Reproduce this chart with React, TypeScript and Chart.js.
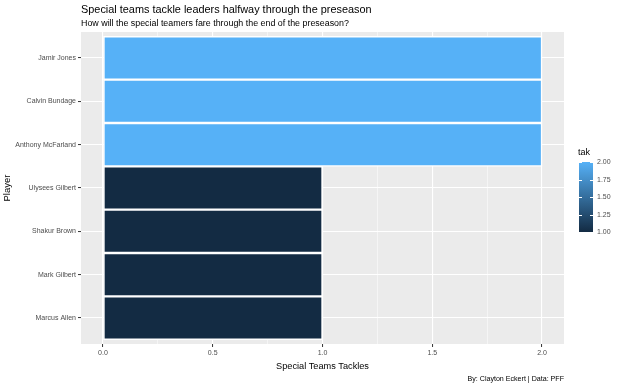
import React, { useEffect, useRef } from "react";
import { Chart, registerables } from "chart.js";

Chart.register(...registerables);

const players = [
  "Jamir Jones",
  "Calvin Bundage",
  "Anthony McFarland",
  "Ulysees Gilbert",
  "Shakur Brown",
  "Mark Gilbert",
  "Marcus Allen",
];
const tackles = [2, 2, 2, 1, 1, 1, 1];
const xMajorTicks = [0, 0.5, 1, 1.5, 2];
const xMinorTicks = [0.25, 0.75, 1.25, 1.75];
const legendTicks = [1, 1.25, 1.5, 1.75, 2];
const titleText = "Special teams tackle leaders halfway through the preseason";
const subtitleText = "How will the special teamers fare through the end of the preseason?";
const captionText = "By: Clayton Eckert | Data: PFF";
const xTitle = "Special Teams Tackles";
const yTitle = "Player";
const legendTitle = "tak";

const LOW = [0x13, 0x2b, 0x43];
const HIGH = [0x56, 0xb1, 0xf7];
const FONT = "'Liberation Sans', Arial, sans-serif";

function colorFor(v: number, lo: number, hi: number) {
  const t = hi === lo ? 1 : (v - lo) / (hi - lo);
  const c = LOW.map((l, i) => Math.round(l + (HIGH[i] - l) * t));
  return `rgb(${c[0]},${c[1]},${c[2]})`;
}

export default function App() {
  const ref = useRef<HTMLCanvasElement | null>(null);

  useEffect(() => {
    document.body.style.margin = "0";
    const canvas = ref.current!;
    const lo = Math.min(...tackles);
    const hi = Math.max(...tackles);

    const panelPlugin = {
      id: "panel",
      beforeDraw(chart: any) {
        const { ctx, chartArea: a } = chart;
        ctx.save();
        ctx.fillStyle = "#EBEBEB";
        ctx.fillRect(a.left, a.top, a.right - a.left, a.bottom - a.top);
        ctx.restore();
      },
      afterDraw(chart: any) {
        const { ctx, chartArea: a } = chart;
        ctx.save();
        ctx.fillStyle = "#000";
        ctx.textAlign = "left";
        ctx.textBaseline = "middle";
        ctx.font = `10.9px ${FONT}`;
        ctx.fillText(titleText, a.left, 10);
        ctx.font = `8.9px ${FONT}`;
        ctx.fillText(subtitleText, a.left, 23.5);
        ctx.textAlign = "right";
        ctx.font = `7.1px ${FONT}`;
        ctx.fillText(captionText, a.right, 379);
        const bx = 579, bw = 14, by = 162, bh = 70;
        const g = ctx.createLinearGradient(0, by + bh, 0, by);
        g.addColorStop(0, colorFor(lo, lo, hi));
        g.addColorStop(1, colorFor(hi, lo, hi));
        ctx.fillStyle = g;
        ctx.fillRect(bx, by, bw, bh);
        ctx.strokeStyle = "#fff";
        ctx.lineWidth = 1;
        ctx.font = `7px ${FONT}`;
        ctx.textAlign = "left";
        ctx.fillStyle = "#4D4D4D";
        legendTicks.forEach((v) => {
          const y = Math.round(by + bh - ((v - lo) / (hi - lo)) * bh) + 0.5;
          ctx.beginPath();
          ctx.moveTo(bx, y);
          ctx.lineTo(bx + 3, y);
          ctx.moveTo(bx + bw - 3, y);
          ctx.lineTo(bx + bw, y);
          ctx.stroke();
          ctx.fillText(v.toFixed(2), bx + bw + 4, y);
        });
        ctx.fillStyle = "#000";
        ctx.font = `9px ${FONT}`;
        ctx.fillText(legendTitle, bx - 1, 153);
        ctx.restore();
      },
    };

    const chart = new Chart(canvas, {
      type: "bar",
      data: {
        datasets: [
          {
            data: tackles.map((v, i) => ({ x: v, y: i })),
            backgroundColor: tackles.map((v) => colorFor(v, lo, hi)),
            borderColor: "#FFFFFF",
            borderWidth: 1.5,
            borderSkipped: false,
            categoryPercentage: 1,
            barPercentage: 1,
          },
        ],
      },
      options: {
        indexAxis: "y",
        responsive: false,
        animation: false,
        events: [],
        layout: { padding: { left: 0, right: 56, top: 32, bottom: 0 } },
        plugins: {
          legend: { display: false },
          tooltip: { enabled: false },
          title: { display: false },
        },
        scales: {
          x: {
            type: "linear",
            min: -0.1,
            max: 2.1,
            offset: false,
            border: { display: false },
            afterBuildTicks(scale: any) {
              scale.ticks = [...xMajorTicks, ...xMinorTicks]
                .sort((a, b) => a - b)
                .map((v) => ({ value: v }));
            },
            afterFit(scale: any) {
              scale.height = 42;
            },
            ticks: {
              autoSkip: false,
              maxRotation: 0,
              padding: 2,
              color: "#4D4D4D",
              font: { family: FONT, size: 7 },
              callback: (v: any) =>
                xMajorTicks.includes(Number(v)) ? Number(v).toFixed(1) : "",
            },
            grid: {
              offset: false,
              color: "#FFFFFF",
              lineWidth: (c: any) =>
                c.tick && xMajorTicks.includes(c.tick.value) ? 1.1 : 0.5,
              tickColor: (c: any) =>
                c.tick && xMajorTicks.includes(c.tick.value) ? "#333333" : "rgba(0,0,0,0)",
              tickLength: 3,
              tickWidth: 1,
            },
            title: {
              display: true,
              text: xTitle,
              color: "#000",
              font: { family: FONT, size: 9.2 },
              padding: { top: 0, bottom: 14 },
            },
          },
          y: {
            type: "linear",
            min: -0.6,
            max: players.length - 1 + 0.6,
            reverse: true,
            offset: false,
            border: { display: false },
            afterBuildTicks(scale: any) {
              scale.ticks = players.map((_, i) => ({ value: i }));
            },
            afterFit(scale: any) {
              scale.width = 81;
            },
            ticks: {
              autoSkip: false,
              padding: 2,
              color: "#4D4D4D",
              font: { family: FONT, size: 7 },
              callback: (v: any) => players[Number(v)] ?? "",
            },
            grid: {
              offset: false,
              color: "#FFFFFF",
              lineWidth: 1.1,
              tickColor: "#333333",
              tickLength: 3,
              tickWidth: 1,
            },
            title: {
              display: true,
              text: yTitle,
              color: "#000",
              font: { family: FONT, size: 9.5 },
              padding: { top: 2, bottom: 0 },
            },
          },
        },
      } as any,
      plugins: [panelPlugin],
    });

    return () => chart.destroy();
  }, []);

  return (
    <div style={{ position: "fixed", left: 0, top: 0, width: 620, height: 386, background: "#fff" }}>
      <canvas ref={ref} width={620} height={386} style={{ display: "block" }} />
    </div>
  );
}
